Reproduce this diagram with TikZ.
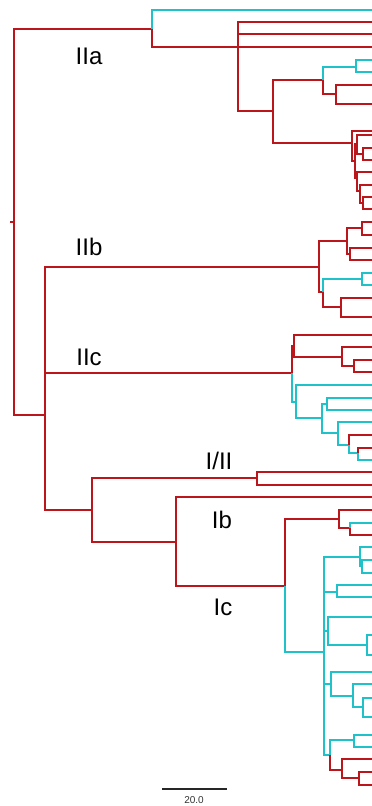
\documentclass[tikz,border=0pt]{standalone}
\usepackage{fontspec}
\setmainfont{Liberation Sans}
\usepackage{tikz}
\definecolor{cladered}{RGB}{186,22,28}
\definecolor{cladecyan}{RGB}{32,194,202}

\begin{document}
\begin{tikzpicture}[x=1pt,y=-1pt,
    redbr/.style={draw=cladered,line width=1.8pt},
    cyanbr/.style={draw=cladecyan,line width=1.8pt},
    clade/.style={font=\fontsize{24}{24}\selectfont,anchor=base}]
  \useasboundingbox (0,0) rectangle (372,806);
  % root
  \draw[redbr] (10,222) -- (14,222);
  \draw[redbr] (14,222) |- (152,29);
  \draw[redbr] (14,222) |- (45,415);
  % IIa
  \draw[cyanbr] (152,29) |- (372,10);
  \draw[redbr] (152,29) |- (238,47);
  \foreach \y in {22,34,47} \draw[redbr] (238,47) |- (372,\y);
  \draw[redbr] (238,47) |- (273,111);
  \draw[redbr] (273,111) |- (323,80);
  \draw[redbr] (273,111) |- (352,143);
  \draw[cyanbr] (323,80) |- (356,67);
  \draw[redbr] (323,80) |- (336,94);
  \foreach \y in {60,72} \draw[cyanbr] (356,67) |- (372,\y);
  \foreach \y in {85,104} \draw[redbr] (336,94) |- (372,\y);
  \draw[redbr] (352,143) |- (372,131);
  \draw[redbr] (352,143) |- (355,161);
  \draw[redbr] (355,161) |- (357,144);
  \draw[redbr] (355,161) |- (357,178);
  \draw[redbr] (357,144) |- (372,135);
  \draw[redbr] (357,144) |- (363,154);
  \foreach \y in {148,160} \draw[redbr] (363,154) |- (372,\y);
  \draw[redbr] (357,178) |- (372,172);
  \draw[redbr] (357,178) |- (360,191);
  \draw[redbr] (360,191) |- (372,185);
  \draw[redbr] (360,191) |- (363,203);
  \foreach \y in {197,209} \draw[redbr] (363,203) |- (372,\y);
  % II / I split
  \draw[redbr] (45,415) |- (319,267);
  \draw[redbr] (45,415) |- (292,373);
  \draw[redbr] (45,415) |- (92,510);
  % IIb
  \draw[redbr] (319,267) |- (347,241);
  \draw[redbr] (319,267) |- (323,292);
  \draw[redbr] (347,241) |- (362,228);
  \draw[redbr] (347,241) |- (350,254);
  \foreach \y in {222,235} \draw[redbr] (362,228) |- (372,\y);
  \foreach \y in {248,260} \draw[redbr] (350,254) |- (372,\y);
  \draw[cyanbr] (323,292) |- (362,279);
  \draw[redbr] (323,292) |- (341,307);
  \foreach \y in {273,285} \draw[cyanbr] (362,279) |- (372,\y);
  \foreach \y in {298,317} \draw[redbr] (341,307) |- (372,\y);
  % IIc
  \draw[redbr] (292,373) |- (294,346);
  \draw[cyanbr] (292,373) |- (296,402);
  \draw[redbr] (294,346) |- (372,335);
  \draw[redbr] (294,346) |- (342,357);
  \draw[redbr] (342,357) |- (372,347);
  \draw[redbr] (342,357) |- (354,366);
  \foreach \y in {360,372} \draw[redbr] (354,366) |- (372,\y);
  \draw[cyanbr] (296,402) |- (372,385);
  \draw[cyanbr] (296,402) |- (322,418);
  \draw[cyanbr] (322,418) |- (327,404);
  \draw[cyanbr] (322,418) |- (338,433);
  \foreach \y in {398,410} \draw[cyanbr] (327,404) |- (372,\y);
  \draw[cyanbr] (338,433) |- (372,422);
  \draw[cyanbr] (338,433) |- (349,445);
  \draw[redbr] (349,445) |- (372,435);
  \draw[cyanbr] (349,445) |- (358,453);
  \draw[redbr] (358,453) |- (372,448);
  \draw[cyanbr] (358,453) |- (372,460);
  % I/II, Ib, Ic
  \draw[redbr] (92,510) |- (257,478);
  \draw[redbr] (92,510) |- (176,542);
  \foreach \y in {472,485} \draw[redbr] (257,478) |- (372,\y);
  \draw[redbr] (176,542) |- (372,497);
  \draw[redbr] (176,542) |- (285,586);
  \draw[redbr] (285,586) |- (339,519);
  \draw[cyanbr] (285,586) |- (324,652);
  \draw[redbr] (339,519) |- (372,510);
  \draw[redbr] (339,519) |- (350,528);
  \draw[cyanbr] (350,528) |- (372,523);
  \draw[redbr] (350,528) |- (372,535);
  \draw[cyanbr] (324,652) |- (360,557);
  \draw[cyanbr] (324,652) |- (337,592);
  \draw[cyanbr] (324,652) |- (328,631);
  \draw[cyanbr] (324,652) |- (331,684);
  \draw[cyanbr] (324,652) |- (330,755);
  \draw[cyanbr] (360,557) |- (372,547);
  \draw[cyanbr] (360,557) |- (362,566);
  \foreach \y in {560,573} \draw[cyanbr] (362,566) |- (372,\y);
  \foreach \y in {585,597} \draw[cyanbr] (337,592) |- (372,\y);
  \draw[cyanbr] (328,631) |- (372,617);
  \draw[cyanbr] (328,631) |- (367,645);
  \foreach \y in {635,655} \draw[cyanbr] (367,645) |- (372,\y);
  \draw[cyanbr] (331,684) |- (372,672);
  \draw[cyanbr] (331,684) |- (353,696);
  \draw[cyanbr] (353,696) |- (372,684);
  \draw[cyanbr] (353,696) |- (363,707);
  \foreach \y in {698,717} \draw[cyanbr] (363,707) |- (372,\y);
  \draw[cyanbr] (330,755) |- (354,740);
  \draw[redbr] (330,755) |- (342,770);
  \foreach \y in {735,747} \draw[cyanbr] (354,740) |- (372,\y);
  \draw[redbr] (342,770) |- (372,759);
  \draw[redbr] (342,770) |- (359,778);
  \foreach \y in {772,785} \draw[redbr] (359,778) |- (372,\y);
  % clade names
  \node[clade] (lIIa) at (89,64) {IIa};
  \node[clade] (lIIb) at (89,255) {IIb};
  \node[clade] (lIIc) at (89,365) {IIc};
  \node[clade] (lIII) at (219,469) {I/II};
  \node[clade] (lIb) at (222,528) {Ib};
  \node[clade] (lIc) at (223,615) {Ic};
  % scale bar
  \coordinate (sbl) at (162,789);
  \coordinate (sbr) at (227,789);
  \draw[line width=1.1pt,black!85] (sbl) -- (sbr);
  \node[font=\fontsize{10}{10}\selectfont,text=black!80,anchor=base,inner sep=1pt] (sblabel) at (194,803) {20.0};
\end{tikzpicture}
\end{document}
